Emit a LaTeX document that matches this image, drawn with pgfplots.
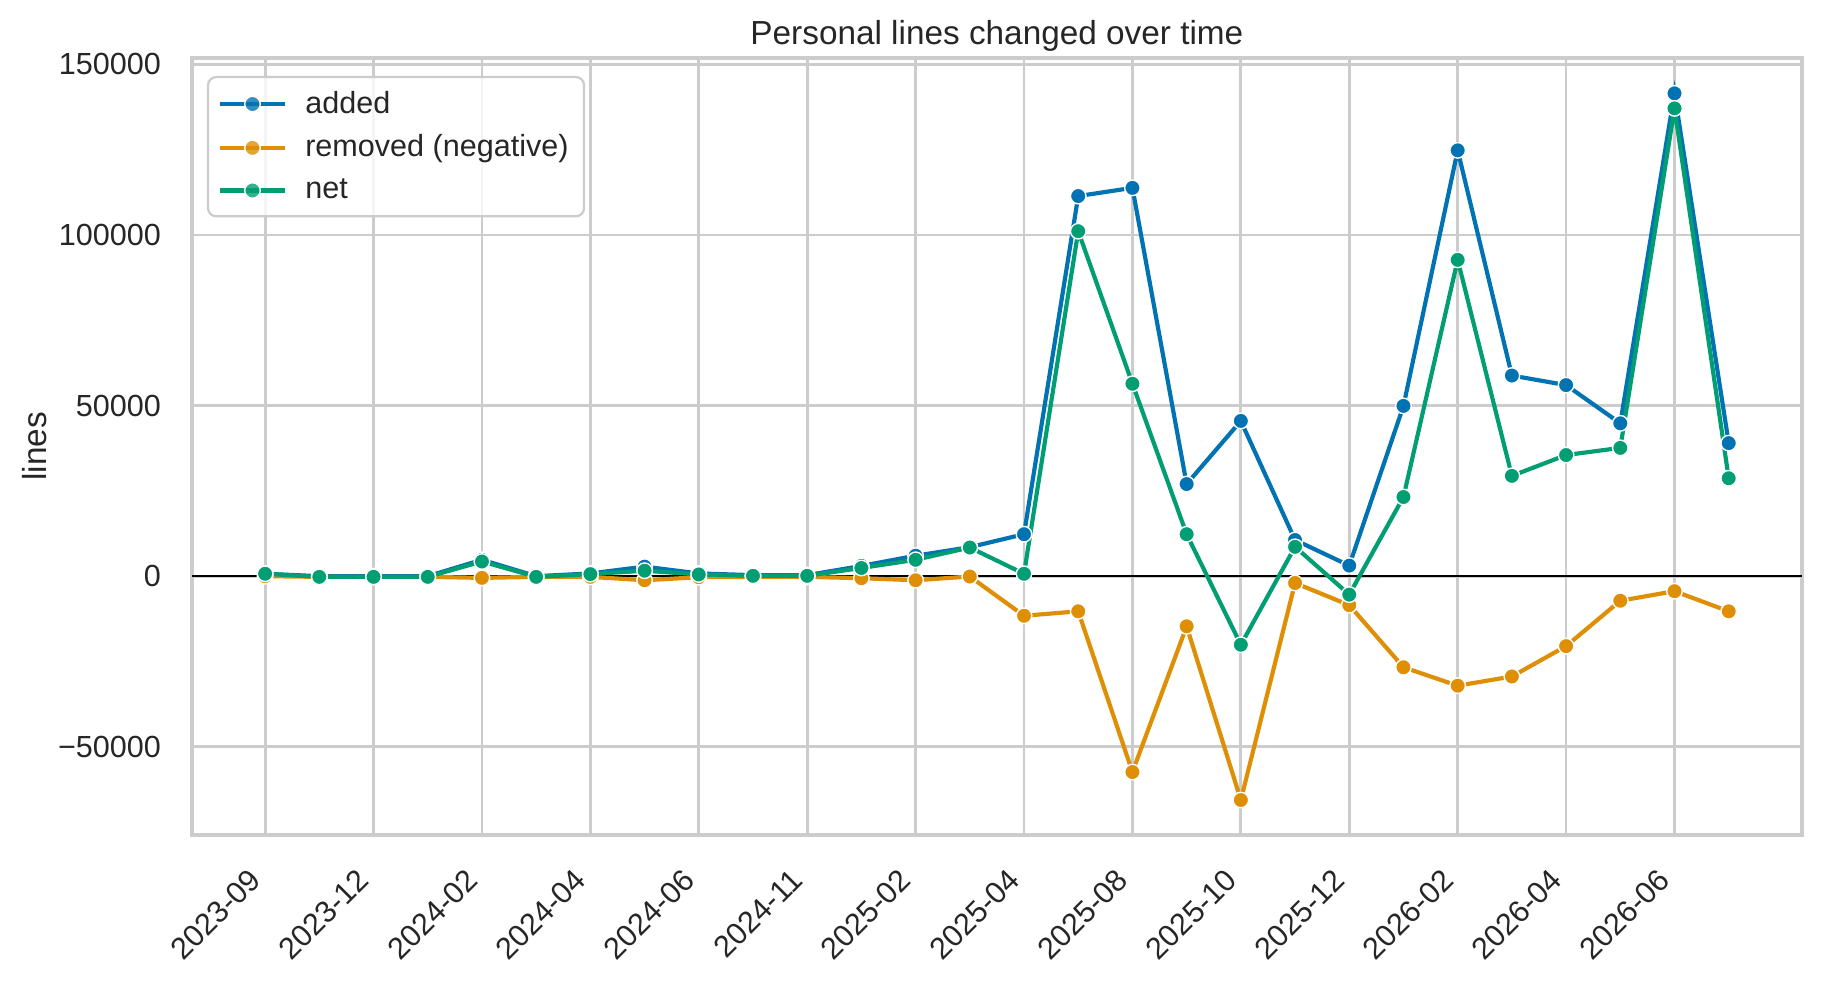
\documentclass[border=0pt]{standalone}
\usepackage{pgfplots}
\pgfplotsset{compat=1.18}
\usepackage{pgfplotstable}
\usepackage{fontspec}
\setmainfont{Liberation Sans}
\definecolor{cblue}{HTML}{0173B2}
\definecolor{corange}{HTML}{DE8F05}
\definecolor{cgreen}{HTML}{029E73}
\definecolor{gridgray}{HTML}{CCCCCC}
\definecolor{textgray}{HTML}{262626}

\pgfplotstableread{
x added removed net
0 700 0 700
1 0 -200 -200
2 0 -200 -200
3 0 -200 -200
4 4800 -500 4300
5 0 -200 -200
6 800 -200 600
7 2800 -1200 1600
8 800 -300 500
9 300 -200 100
10 300 -200 100
11 3000 -600 2400
12 6000 -1200 4800
13 8500 -100 8400
14 12300 -11600 700
15 111400 -10300 101100
16 113800 -57400 56400
17 27000 -14700 12300
18 45500 -65600 -20100
19 10600 -2000 8600
20 3100 -8500 -5400
21 49900 -26700 23200
22 124800 -32100 92700
23 58800 -29400 29400
24 56000 -20500 35500
25 44800 -7200 37600
26 141500 -4400 137100
27 39000 -10300 28700
}\data

\begin{document}
\begin{tikzpicture}
\useasboundingbox (-69.1pt,-53.3pt) rectangle (587.2pt,300.6pt);
\begin{axis}[
  scale only axis, width=579.6pt, height=279.7pt,
  xmin=-1.35, xmax=28.35, ymin=-75850, ymax=151850,
  xtick={0,2,...,26},
  xticklabels={2023-09,2023-12,2024-02,2024-04,2024-06,2024-11,2025-02,2025-04,2025-08,2025-10,2025-12,2026-02,2026-04,2026-06},
  ytick={-50000,0,50000,100000,150000},
  yticklabels={−50000,0,50000,100000,150000},
  scaled y ticks=false,
  grid=major,
  major grid style={color=gridgray, line width=1pt},
  axis line style={color=gridgray, line width=1.25pt},
  major tick length=0pt,
  tick label style={font=\fontsize{11}{13}\selectfont, color=textgray},
  yticklabel style={anchor=east, inner sep=0pt, xshift=-11pt},
  xticklabel style={rotate=45, anchor=north east, inner sep=0pt, xshift=-12.5pt, yshift=-3.5pt},
  title={Personal lines changed over time},
  title style={font=\fontsize{12}{14}\selectfont, color=textgray, at={(axis description cs:0.5,1)}, anchor=center, yshift=1.9pt},
  ylabel={lines},
  ylabel style={font=\fontsize{12}{14}\selectfont, color=textgray, at={(axis description cs:-0.0975,0.5)}, anchor=center, rotate=0},
  legend style={at={(0.0093,0.977)}, anchor=north west, draw=gridgray, line width=0.8pt, rounded corners=3pt, fill=white, fill opacity=0.8, text opacity=1, draw opacity=1, font=\fontsize{11}{13}\selectfont, text=textgray, row sep=2.3pt, inner xsep=3.6pt, inner ysep=3pt},
  legend cell align=left,
  legend image code/.code={%
    \draw[mark repeat=2, mark phase=2, #1] plot coordinates {(0cm,0cm) (0.41cm,0cm) (0.82cm,0cm)};
    \path (0.82cm+4.6pt,0cm);},
  clip=false,
]
\addplot[black, line width=0.8pt, forget plot] coordinates {(-1.35,0) (28.35,0)};
\addplot[color=cblue, line width=1.5pt, mark=*, mark size=2.8pt, mark options={draw=white, fill=cblue, line width=0.5pt}] table[x=x, y=added] {\data};
\addlegendentry{added}
\addplot[color=corange, line width=1.5pt, mark=*, mark size=2.8pt, mark options={draw=white, fill=corange, line width=0.5pt}] table[x=x, y=removed] {\data};
\addlegendentry{removed (negative)}
\addplot[color=cgreen, line width=1.5pt, mark=*, mark size=2.8pt, mark options={draw=white, fill=cgreen, line width=0.5pt}] table[x=x, y=net] {\data};
\addlegendentry{net}
\end{axis}
\end{tikzpicture}
\end{document}
